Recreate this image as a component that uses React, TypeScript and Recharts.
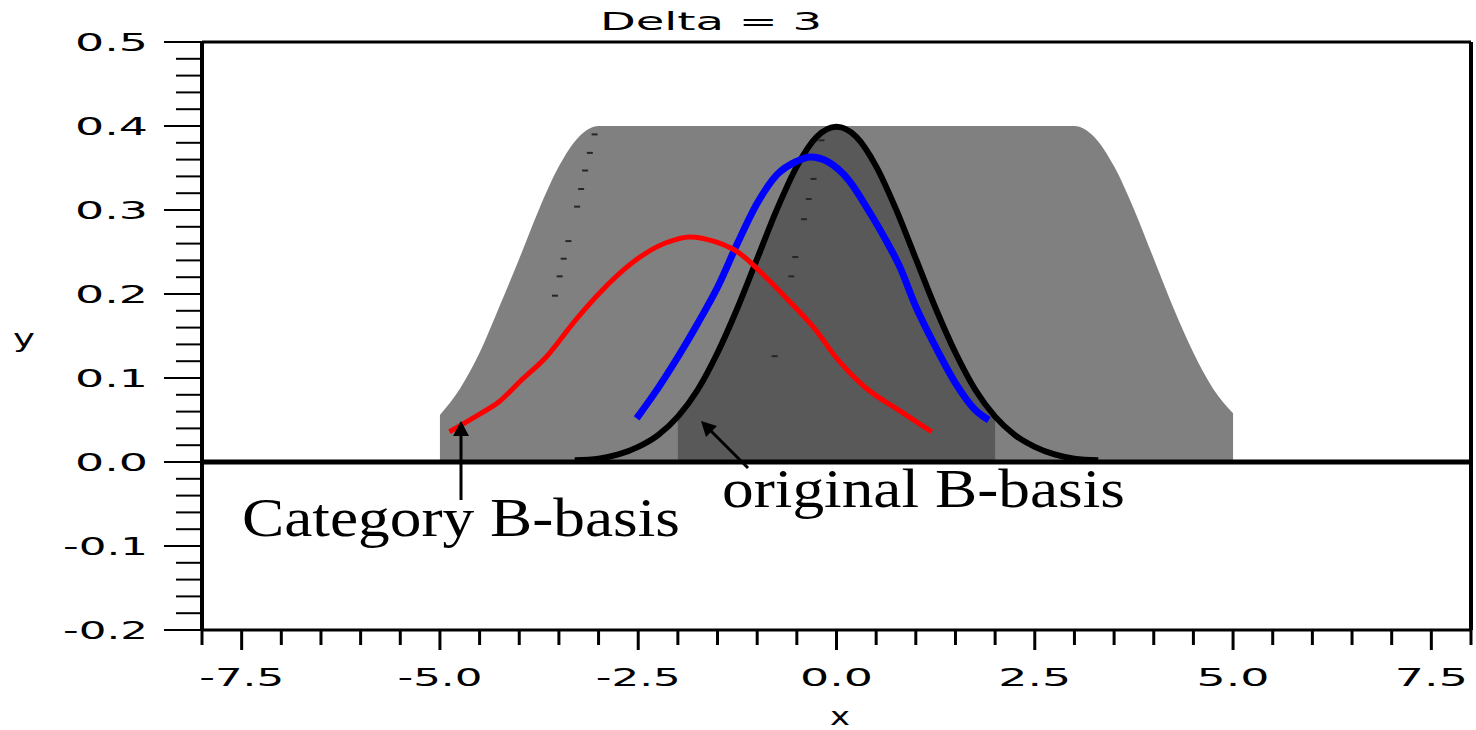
import React from "react";
import { ComposedChart, Area, Line, Scatter, XAxis, YAxis, ReferenceLine } from "recharts";

// ---------------------------------------------------------------------------
// Axes
// ---------------------------------------------------------------------------

const X_TICKS = [
  -8, -7.5, -7, -6.5, -6, -5.5, -5, -4.5, -4, -3.5, -3, -2.5, -2, -1.5, -1, -0.5, 0,
  0.5, 1, 1.5, 2, 2.5, 3, 3.5, 4, 4.5, 5, 5.5, 6, 6.5, 7, 7.5, 8,
];

const Y_TICKS = [
  -0.2, -0.18, -0.16, -0.14, -0.12, -0.1, -0.08, -0.06, -0.04, -0.02, 0, 0.02, 0.04,
  0.06, 0.08, 0.1, 0.12, 0.14, 0.16, 0.18, 0.2, 0.22, 0.24, 0.26, 0.28, 0.3, 0.32,
  0.34, 0.36, 0.38, 0.4, 0.42, 0.44, 0.46, 0.48, 0.5,
];

// ---------------------------------------------------------------------------
// Series
// ---------------------------------------------------------------------------

// light grey band
const BAND_X = [-5, -4.75, -4.5, -4.25, -4, -3.75, -3.5, -3.25, -3, 3, 3.25, 3.5, 3.75, 4, 4.25, 4.5, 4.75, 5];
const BAND_Y = [0.056, 0.087, 0.13, 0.185, 0.242, 0.301, 0.352, 0.387, 0.4, 0.4, 0.387, 0.352, 0.301, 0.242, 0.183, 0.13, 0.087, 0.058];

// black curve (original); the dark grey core is the part between -2 and 2
const ORIG_X = [-3.3, -3, -2.75, -2.5, -2.25, -2, -1.75, -1.5, -1.25, -1, -0.75, -0.5, -0.25, 0, 0.25, 0.5, 0.75, 1, 1.25, 1.5, 1.75, 2, 2.25, 2.5, 2.75, 3, 3.3];
const ORIG_Y = [0.002, 0.004, 0.009, 0.018, 0.032, 0.054, 0.086, 0.13, 0.183, 0.242, 0.301, 0.352, 0.387, 0.399, 0.387, 0.352, 0.301, 0.242, 0.183, 0.13, 0.086, 0.054, 0.032, 0.018, 0.009, 0.004, 0.002];

// blue curve
const BLUE_X = [-2.52, -2.25, -2, -1.75, -1.5, -1.25, -1, -0.75, -0.5, -0.33, -0.1, 0.15, 0.4, 0.6, 0.8, 1, 1.25, 1.5, 1.75, 1.92];
const BLUE_Y = [0.052, 0.088, 0.125, 0.165, 0.208, 0.26, 0.308, 0.342, 0.358, 0.363, 0.357, 0.336, 0.3, 0.268, 0.232, 0.185, 0.137, 0.094, 0.062, 0.05];

// red curve (category)
const RED_X = [-4.88, -4.5, -4.25, -4, -3.66, -3.29, -2.99, -2.58, -2.15, -1.85, -1.52, -1.23, -0.89, -0.57, -0.26, -0.01, 0.36, 0.78, 1.2];
const RED_Y = [0.036, 0.057, 0.072, 0.095, 0.125, 0.169, 0.201, 0.237, 0.261, 0.268, 0.262, 0.249, 0.22, 0.189, 0.157, 0.125, 0.089, 0.062, 0.036];

// faint dark dashes inside the grey
const DOT_X = [-3.05, -3.11, -3.17, -3.22, -3.27, -3.38, -3.44, -3.49, -3.55, -0.19, -0.29, -0.35, -0.41, -0.52, -0.57, -0.78];
const DOT_Y = [0.39, 0.368, 0.347, 0.325, 0.304, 0.263, 0.242, 0.221, 0.198, 0.383, 0.337, 0.313, 0.289, 0.244, 0.221, 0.126];

const zip = (xs: number[], ys: number[]) => xs.map((x, i) => ({ x, y: ys[i] }));

const bandData = zip(BAND_X, BAND_Y);
const origData = zip(ORIG_X, ORIG_Y);
const coreData = origData.filter((d) => Math.abs(d.x) <= 2);
const blueData = zip(BLUE_X, BLUE_Y);
const redData = zip(RED_X, RED_Y);
const dotData = zip(DOT_X, DOT_Y);

// ---------------------------------------------------------------------------
// Ticks
// ---------------------------------------------------------------------------

const FONT = "DejaVu Sans";

// stretched width of a label in the wide bitmap-like font
function labelWidth(s: string): number {
  return s.split("").reduce((w, c) => w + (c === "." ? 13 : c === "-" ? 12 : 30), 0);
}

function XTick({ x, y, payload }: any) {
  const v = payload.value as number;
  const major = Math.abs(v / 2.5 - Math.round(v / 2.5)) < 1e-6;
  const label = v.toFixed(1);
  const len = labelWidth(label);
  return (
    <g>
      <line x1={x} y1={y} x2={x} y2={y + (major ? 20 : 15)} stroke="#000" strokeWidth={3} />
      {major && (
        <text x={x - len / 2} y={y + 56} textLength={len} lengthAdjust="spacingAndGlyphs" fontFamily={FONT} fontSize={25} fill="#000">
          {label}
        </text>
      )}
    </g>
  );
}

function YTick({ x, y, payload }: any) {
  const v = payload.value as number;
  const major = Math.abs(v * 10 - Math.round(v * 10)) < 1e-6;
  const label = v.toFixed(1);
  const len = labelWidth(label);
  return (
    <g>
      <line x1={x - (major ? 38 : 26)} y1={y} x2={x} y2={y} stroke="#000" strokeWidth={2} />
      {major && (
        <text x={148 - len} y={y + 9} textLength={len} lengthAdjust="spacingAndGlyphs" fontFamily={FONT} fontSize={25} fill="#000">
          {label}
        </text>
      )}
    </g>
  );
}

function Dash(props: any) {
  return <rect x={props.cx - 3} y={props.cy - 1} width={6} height={2} fill="#262626" />;
}

// ---------------------------------------------------------------------------
// Chart
// ---------------------------------------------------------------------------

export default function App() {
  return (
    <div style={{ position: "relative", width: 1476, height: 730, background: "#fff" }}>
      <style>{"body{margin:0}"}</style>
      <ComposedChart width={1476} height={730} margin={{ top: 42, right: 5, bottom: 0, left: 0 }}>
        <XAxis
          type="number"
          dataKey="x"
          domain={[-8, 8]}
          ticks={X_TICKS}
          interval={0}
          height={100}
          tickSize={0}
          tickMargin={0}
          tickLine={false}
          axisLine={{ stroke: "#000", strokeWidth: 3 }}
          tick={(p: any) => <XTick {...p} />}
        />
        <YAxis
          type="number"
          domain={[-0.2, 0.5]}
          ticks={Y_TICKS}
          interval={0}
          width={202}
          tickSize={0}
          tickMargin={0}
          tickLine={false}
          axisLine={{ stroke: "#000", strokeWidth: 4 }}
          tick={(p: any) => <YTick {...p} />}
        />

        <Area data={bandData} dataKey="y" type="monotone" baseValue={0} fill="#808080" fillOpacity={1} stroke="none" isAnimationActive={false} />
        <Area data={coreData} dataKey="y" type="monotone" baseValue={0} fill="#595959" fillOpacity={1} stroke="none" isAnimationActive={false} />
        <Scatter data={dotData} dataKey="y" shape={Dash} isAnimationActive={false} />

        <ReferenceLine y={0.5} stroke="#000" strokeWidth={3} />
        <ReferenceLine x={8} stroke="#000" strokeWidth={4} />
        <ReferenceLine y={0} stroke="#000" strokeWidth={5} />

        <Line data={origData} dataKey="y" type="monotone" stroke="#000" strokeWidth={6} dot={false} isAnimationActive={false} />
        <Line data={blueData} dataKey="y" type="monotone" stroke="#0000ff" strokeWidth={7} dot={false} isAnimationActive={false} />
        <Line data={redData} dataKey="y" type="monotone" stroke="#ff0000" strokeWidth={5} dot={false} isAnimationActive={false} />
      </ComposedChart>

      <svg width={1476} height={730} style={{ position: "absolute", left: 0, top: 0, pointerEvents: "none" }}>
        <text x={600} y={30} textLength={222} lengthAdjust="spacingAndGlyphs" fontFamily={FONT} fontSize={25} fill="#000">
          Delta = 3
        </text>
        <text x={13} y={347} textLength={22} lengthAdjust="spacingAndGlyphs" fontFamily={FONT} fontSize={25} fill="#000">
          y
        </text>
        <text x={830} y={725} textLength={20} lengthAdjust="spacingAndGlyphs" fontFamily={FONT} fontSize={25} fill="#000">
          x
        </text>

        <text x={242} y={536} textLength={438} lengthAdjust="spacingAndGlyphs" fontFamily="Liberation Serif" fontSize={54} fill="#000">
          Category B-basis
        </text>
        <text x={722} y={507} textLength={403} lengthAdjust="spacingAndGlyphs" fontFamily="Liberation Serif" fontSize={54} fill="#000">
          original B-basis
        </text>

        <line x1={461} y1={500} x2={461} y2={432} stroke="#000" strokeWidth={3} />
        <polygon points="461,421 453,436 469,436" fill="#000" />
        <line x1={748} y1={468} x2={709} y2={429} stroke="#000" strokeWidth={3} />
        <polygon points="701,421 717,426 706,437" fill="#000" />
      </svg>
    </div>
  );
}
